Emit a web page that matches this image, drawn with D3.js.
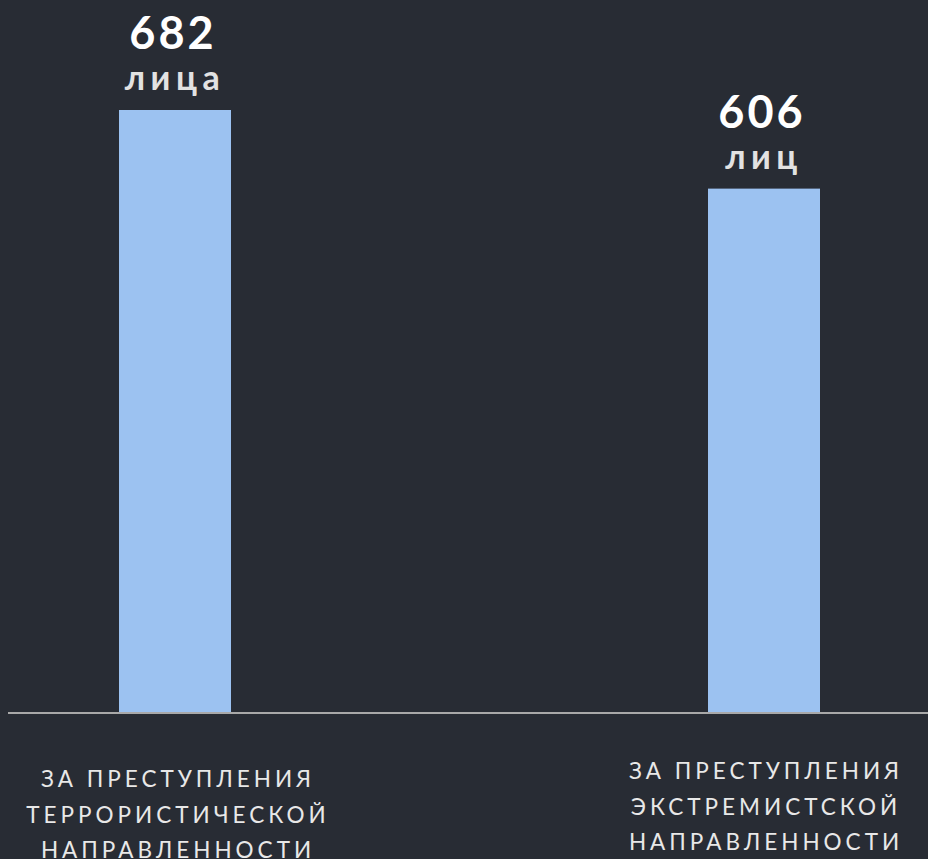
<!DOCTYPE html>
<html>
<head>
<meta charset="utf-8">
<script src="https://cdn.jsdelivr.net/npm/d3@7"></script>
<style>
  html, body { margin: 0; padding: 0; background: #282c34; }
  svg { display: block; }
</style>
</head>
<body>
<svg id="chart" width="928" height="859"></svg>
<script>
// Convicted persons by crime category
const categories = ["terror", "extremism"];
const values = [682, 606];
const unitLabels = ["лица", "лиц"];
const categoryLines = [
  ["ЗА ПРЕСТУПЛЕНИЯ", "ТЕРРОРИСТИЧЕСКОЙ", "НАПРАВЛЕННОСТИ"],
  ["ЗА ПРЕСТУПЛЕНИЯ", "ЭКСТРЕМИСТСКОЙ", "НАПРАВЛЕННОСТИ"]
];
const yDomain = [100, 682];

const W = 928, H = 859;
const baseY = 712;
const barW = 112;
const FONT = "Lato, 'Noto Sans', sans-serif";

const svg = d3.select("#chart");
svg.append("rect").attr("width", W).attr("height", H).attr("fill", "#282c34");

// bar centres
const x = d3.scalePoint()
  .domain(categories)
  .range([175, 764]);

const y = d3.scaleLinear().domain(yDomain).range([baseY, 110]);

const data = categories.map((c, i) => ({ c, v: values[i], unit: unitLabels[i], lines: categoryLines[i] }));

// bars
svg.selectAll("rect.bar")
  .data(data)
  .join("rect")
  .attr("class", "bar")
  .attr("x", d => x(d.c) - barW / 2)
  .attr("width", barW)
  .attr("y", d => y(d.v))
  .attr("height", d => baseY - y(d.v))
  .attr("fill", "#9cc2f1");

// baseline
svg.append("line")
  .attr("x1", 8).attr("x2", W)
  .attr("y1", baseY + 1).attr("y2", baseY + 1)
  .attr("stroke", "#a9a9a9")
  .attr("stroke-width", 2);

// value labels
const lbl = svg.selectAll("g.val")
  .data(data)
  .join("g")
  .attr("class", "val")
  .attr("transform", d => `translate(${x(d.c)},${y(d.v)})`);

lbl.append("text")
  .attr("x", -2)
  .attr("y", -61)
  .attr("text-anchor", "middle")
  .attr("fill", "#ffffff")
  .attr("font-family", FONT)
  .attr("font-weight", 700)
  .attr("font-size", 45)
  .attr("letter-spacing", 3)
  .text(d => d.v);

lbl.append("text")
  .attr("y", -20)
  .attr("text-anchor", "middle")
  .attr("fill", "#e2e2e2")
  .attr("font-family", FONT)
  .attr("font-weight", 700)
  .attr("font-size", 34)
  .attr("letter-spacing", 5.5)
  .text(d => d.unit);

// category labels
const catY = [787, 779];
const catDx = [3, 2];
const cat = svg.selectAll("g.cat")
  .data(data)
  .join("g")
  .attr("class", "cat")
  .attr("transform", (d, i) => `translate(${x(d.c) + catDx[i]},${catY[i]})`);

cat.selectAll("text")
  .data(d => d.lines)
  .join("text")
  .attr("y", (d, i) => i * 35.5)
  .attr("text-anchor", "middle")
  .attr("fill", "#e8e8e8")
  .attr("font-family", FONT)
  .attr("font-size", 22.5)
  .attr("letter-spacing", 4)
  .text(d => d);
</script>
</body>
</html>
